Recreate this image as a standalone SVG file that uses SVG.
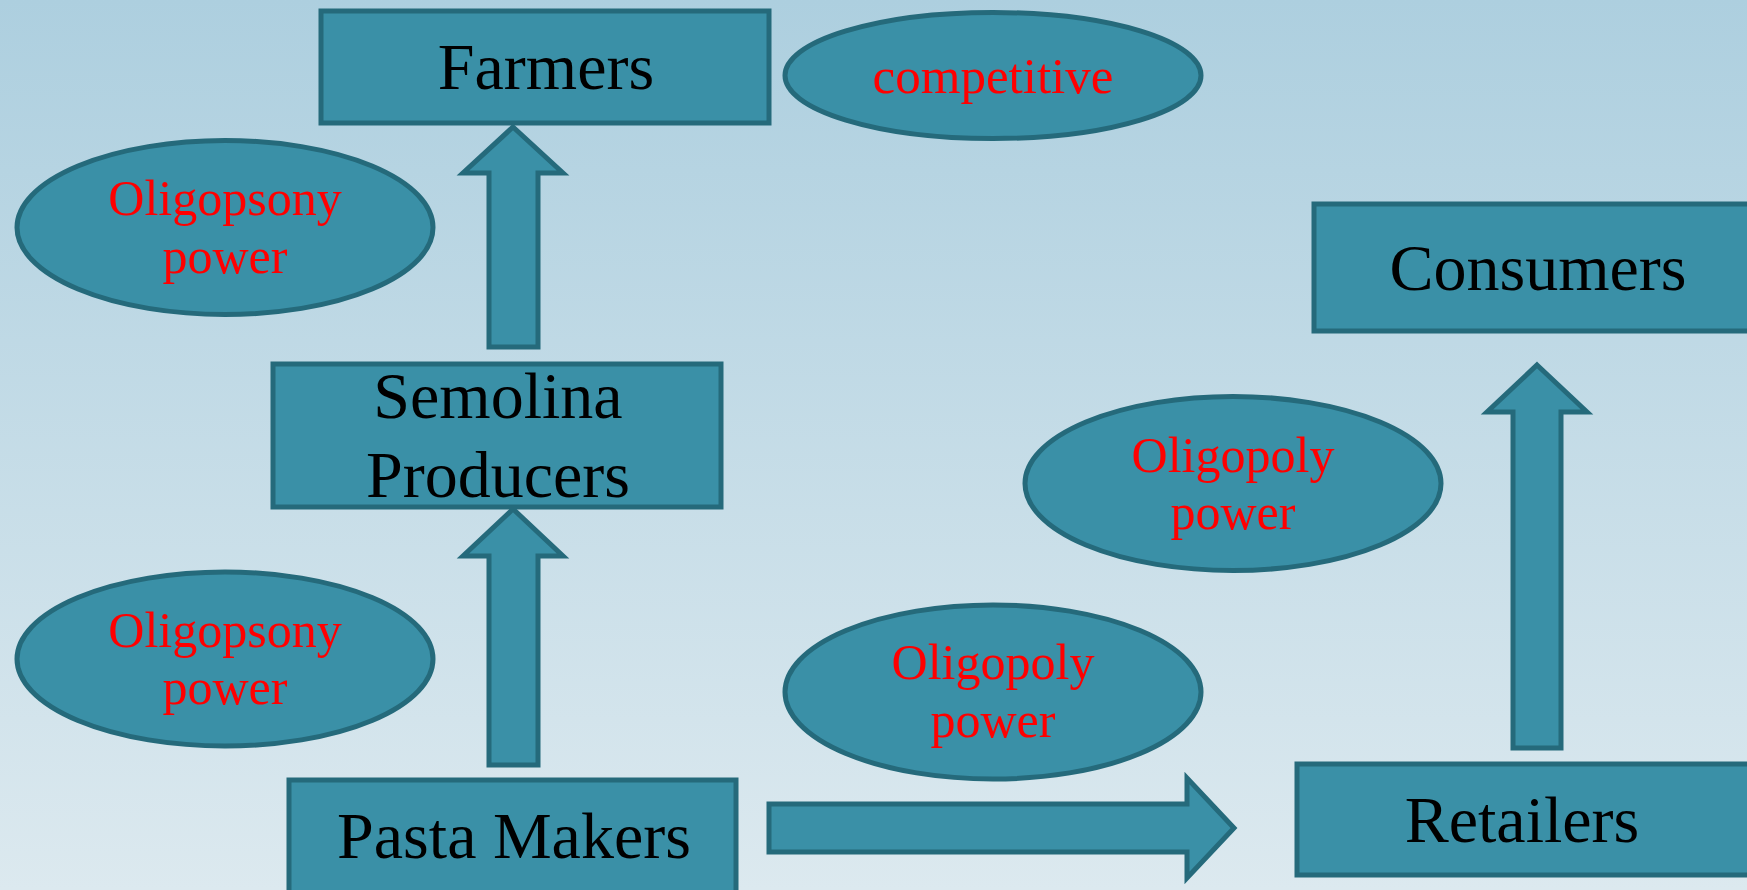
<svg xmlns="http://www.w3.org/2000/svg" width="1747" height="890" viewBox="0 0 1747 890">
  <defs>
    <linearGradient id="bg" x1="0" y1="0" x2="0" y2="1">
      <stop offset="0" stop-color="#adcfdf"/>
      <stop offset="1" stop-color="#dce9ef"/>
    </linearGradient>
    <style>
      .box { fill: #3a90a7; stroke: #256a7b; stroke-width: 5; }
      .ell { fill: #3a90a7; stroke: #256a7b; stroke-width: 5; }
      .arr { fill: #3a90a7; stroke: #256a7b; stroke-width: 5; stroke-linejoin: miter; }
      .lbl { font-family: "Liberation Serif", "Times New Roman", serif; font-size: 66px; fill: #000; text-anchor: middle; }
      .red { font-family: "Liberation Serif", "Times New Roman", serif; font-size: 50px; fill: #ff0000; text-anchor: middle; }
    </style>
  </defs>
  <rect x="0" y="0" width="1747" height="890" fill="url(#bg)"/>

  <g id="connectors">
    <path class="arr" d="M513,127 L563,173 L538,173 L538,347 L489,347 L489,173 L463,173 Z"/>
    <path class="arr" d="M513,509 L563,556 L538,556 L538,765 L489,765 L489,556 L463,556 Z"/>
    <path class="arr" d="M1537,365 L1587,412 L1561,412 L1561,748 L1513,748 L1513,412 L1487,412 Z"/>
    <path class="arr" d="M769,804 L1187,804 L1187,778 L1234,828 L1187,878 L1187,852 L769,852 Z"/>
  </g>

  <g id="farmers">
    <rect class="box" x="321" y="11" width="448" height="112"/>
    <text class="lbl" x="546" y="89">Farmers</text>
  </g>

  <g id="competitive">
    <ellipse class="ell" cx="993" cy="75.5" rx="208" ry="63"/>
    <text class="red" x="993" y="93" textLength="241" lengthAdjust="spacingAndGlyphs">competitive</text>
  </g>

  <g id="oligopsony1">
    <ellipse class="ell" cx="225" cy="227.5" rx="208" ry="87"/>
    <text class="red" x="225" y="215">Oligopsony</text>
    <text class="red" x="225" y="273">power</text>
  </g>

  <g id="semolina">
    <rect class="box" x="273" y="364" width="448" height="143"/>
    <text class="lbl" x="498" y="418">Semolina</text>
    <text class="lbl" x="498" y="497">Producers</text>
  </g>

  <g id="consumers">
    <rect class="box" x="1314" y="204" width="450" height="127"/>
    <text class="lbl" x="1538" y="290">Consumers</text>
  </g>

  <g id="oligopoly1">
    <ellipse class="ell" cx="1233" cy="483.5" rx="208" ry="87"/>
    <text class="red" x="1233" y="472">Oligopoly</text>
    <text class="red" x="1233" y="529">power</text>
  </g>

  <g id="oligopsony2">
    <ellipse class="ell" cx="225" cy="659" rx="208" ry="87"/>
    <text class="red" x="225" y="647">Oligopsony</text>
    <text class="red" x="225" y="704">power</text>
  </g>

  <g id="oligopoly2">
    <ellipse class="ell" cx="993" cy="692" rx="208" ry="87"/>
    <text class="red" x="993" y="679">Oligopoly</text>
    <text class="red" x="993" y="737">power</text>
  </g>

  <g id="pasta-makers">
    <rect class="box" x="289" y="780" width="447" height="130"/>
    <text class="lbl" x="514" y="858">Pasta Makers</text>
  </g>

  <g id="retailers">
    <rect class="box" x="1297" y="764" width="460" height="111"/>
    <text class="lbl" x="1522" y="842">Retailers</text>
  </g>
</svg>
